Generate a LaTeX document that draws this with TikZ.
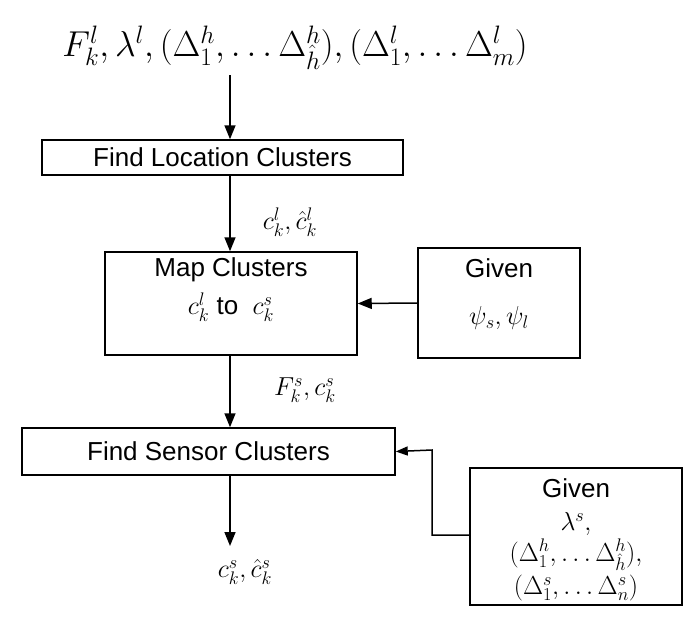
\RequirePackage{fix-cm}
\documentclass[tikz,border=0pt]{standalone}
\usepackage{fontspec}
\setmainfont{Liberation Sans}
\usetikzlibrary{arrows.meta}
\begin{document}
\begin{tikzpicture}[x=1pt,y=-1pt,
  box/.style={draw,line width=1.5pt,inner sep=0pt},
  arr/.style={line width=1.5pt,-{Triangle[length=14pt,width=11pt]}},
  lab/.style={font=\fontsize{26}{30}\selectfont}]
\useasboundingbox (0,0) rectangle (695,622);
\coordinate (ax) at (230,75);
\node[font=\fontsize{36}{40}\selectfont] (top) at (295,48) {$F_k^l,\lambda^l,(\Delta_1^h,\ldots\Delta_{\hat h}^h),(\Delta_1^l,\ldots\Delta_m^l)$};
\node[box,minimum width=361pt,minimum height=35pt,lab] (b1) at (222.5,157.5) {Find Location Clusters};
\node[box,minimum width=252pt,minimum height=103pt] (b2) at (231,303.5) {};
\node[lab] (b2a) at (231,270) {Map Clusters};
\node[lab] (b2b) at (231,307) {$c_k^l$ to\ \ $c_k^s$};
\node[box,minimum width=162pt,minimum height=110pt] (b3) at (499,303) {};
\node[lab] (b3a) at (499,268) {Given};
\node[lab] (b3b) at (499,318) {$\psi_s,\psi_l$};
\node[box,minimum width=373pt,minimum height=47pt,lab] (b4) at (208.5,451.5) {Find Sensor Clusters};
\node[box,minimum width=212pt,minimum height=137pt] (b5) at (576,536.5) {};
\node[lab] (b5a) at (576,488) {Given};
\node[lab] (b5b) at (576,524) {$\lambda^s,$};
\node[lab] (b5c) at (576,555) {$(\Delta_1^h,\ldots\Delta_{\hat h}^h),$};
\node[lab] (b5d) at (576,588) {$(\Delta_1^s,\ldots\Delta_n^s)$};
\node[lab] (l1) at (290,222) {$c_k^l,\hat{c}_k^l$};
\node[lab] (l2) at (305,390) {$F_k^s,c_k^s$};
\node[lab] (out) at (245,572) {$c_k^s,\hat{c}_k^s$};
\coordinate (o) at (230,546);
\draw[arr] (ax) -- (b1.north -| ax);
\draw[arr] (b1.south -| ax) -- (b2.north -| ax);
\draw[arr] (b3.west) -- (b2.east);
\draw[arr] (b2.south -| ax) -- (b4.north -| ax);
\draw[arr] (b4.south -| ax) -- (o);
\draw[line width=1.5pt,-{Triangle[length=12pt,width=9pt]}] (b5.west |- 0,535) -- (432,535) -- (432,450) -- (b4.east);
\end{tikzpicture}
\end{document}
